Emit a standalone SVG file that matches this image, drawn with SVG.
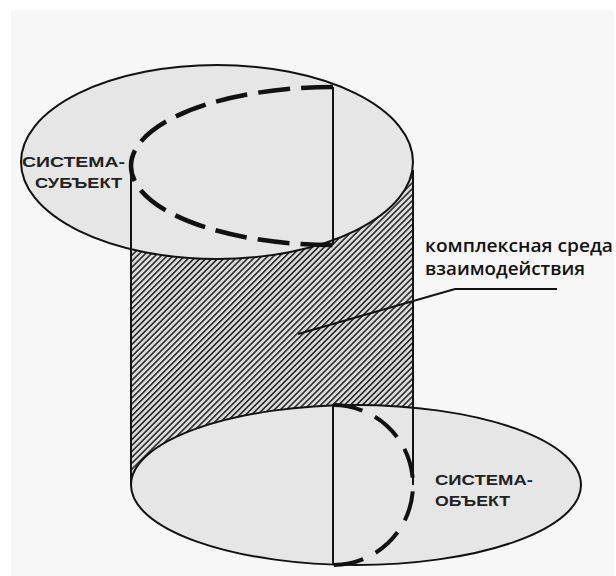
<svg xmlns="http://www.w3.org/2000/svg" width="616" height="576" viewBox="0 0 616 576">
  <style>
    .disk { fill: #e6e6e6; stroke: #111; stroke-width: 2; }
    .edge { fill: none; stroke: #111; stroke-width: 2; }
    .dash-top { fill: none; stroke: #111; stroke-width: 4.5; stroke-dasharray: 32 11; }
    .dash-bottom { fill: none; stroke: #111; stroke-width: 4; stroke-dasharray: 30 14; }
    .caps { font-family: "Liberation Sans", Arial, sans-serif; font-size: 15px; font-weight: bold; fill: #222; }
    .note { font-family: "Open Sans", "Noto Sans", sans-serif; font-size: 18px; font-weight: 600; fill: #111; }
    .leader { fill: none; stroke: #111; stroke-width: 2; }
  </style>
  <defs>
    <pattern id="hatch" patternUnits="userSpaceOnUse" width="4.2" height="4.2" patternTransform="rotate(-45)">
      <rect width="4.2" height="4.2" fill="#dcdcdc"/>
      <rect width="4.2" height="1.6" fill="#2a2a2a"/>
    </pattern>
  </defs>
  <rect width="616" height="576" fill="#ffffff"/>
  <rect x="11" y="10" width="603" height="566" fill="#f7f7f7"/>

  <!-- interaction medium: hatched cylinder wall -->
  <g id="medium">
    <rect x="131" y="162" width="282" height="323" fill="url(#hatch)"/>
  </g>

  <!-- lower disk: system-object -->
  <g id="system-object">
    <ellipse class="disk" cx="356" cy="485" rx="225" ry="80"/>
    <line class="edge" x1="333" y1="405" x2="333" y2="565"/>
    <path class="dash-bottom" d="M333 405 A80 80 0 0 1 333 565"/>
    <line class="edge" x1="413" y1="170" x2="413" y2="485"/>
    <text class="caps" font-weight="normal" x="435" y="485" textLength="98" lengthAdjust="spacingAndGlyphs">СИСТЕМА-</text>
    <text class="caps" font-weight="normal" x="435" y="506" textLength="75" lengthAdjust="spacingAndGlyphs">ОБЪЕКТ</text>
  </g>

  <!-- upper disk: system-subject -->
  <g id="system-subject">
    <ellipse class="disk" cx="217" cy="162" rx="196" ry="97"/>
    <line class="edge" x1="333" y1="87" x2="333" y2="245"/>
    <path class="dash-top" d="M333 87 A202 79 0 0 0 131 166 A202 79 0 0 0 333 245"/>
    <line class="edge" x1="131" y1="167" x2="131" y2="485"/>
    <text class="caps" x="22" y="167" textLength="103" lengthAdjust="spacingAndGlyphs">СИСТЕМА-</text>
    <text class="caps" x="35" y="188" textLength="87" lengthAdjust="spacingAndGlyphs">СУБЪЕКТ</text>
  </g>

  <!-- leader from the label to the cylinder wall -->
  <g id="connectors">
    <polyline class="leader" points="298,334 455,289 557,289"/>
  </g>

  <g id="medium-label">
    <text class="note" x="425" y="252" textLength="188" lengthAdjust="spacingAndGlyphs">комплексная среда</text>
    <text class="note" x="425" y="275" textLength="160" lengthAdjust="spacingAndGlyphs">взаимодействия</text>
  </g>
</svg>
